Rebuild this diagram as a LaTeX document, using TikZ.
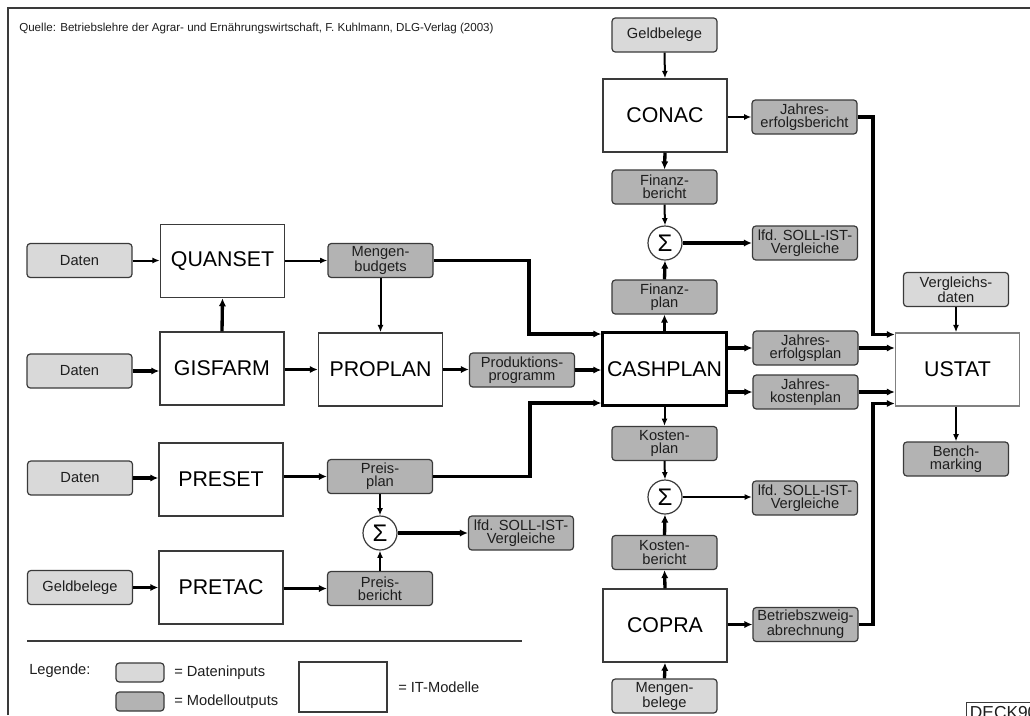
\documentclass[tikz,border=0pt]{standalone}
\usepackage{fontspec}
\setmainfont{Liberation Sans}
\usetikzlibrary{arrows.meta,calc}
\definecolor{inputgray}{HTML}{D9D9D9}
\definecolor{outputgray}{HTML}{B3B3B3}
\definecolor{edgegray}{HTML}{3A3A3A}
\definecolor{textgray}{HTML}{1E1E1E}
\begin{document}
\begin{tikzpicture}[x=0.75pt,y=-0.75pt,
  box/.style={draw=edgegray,line width=0.9pt,rounded corners=2.5pt,
    minimum width=78.75pt,minimum height=25.5pt,inner sep=0pt,align=center,
    font=\fontsize{11}{10}\selectfont,text=textgray},
  inbox/.style={box,fill=inputgray},
  outbox/.style={box,fill=outputgray},
  model/.style={draw=edgegray,line width=1.1pt,fill=white,minimum width=93pt,
    minimum height=54.75pt,inner sep=0pt,font=\fontsize{16}{18}\selectfont,text=black},
  sumnode/.style={circle,draw=edgegray,line width=0.9pt,fill=white,minimum size=25.5pt,
    inner sep=0pt,font=\fontsize{18}{18}\selectfont},
  flow/.style={line width=1.5pt,-{Latex[length=5.5pt,width=4.5pt]}},
  mainflow/.style={line width=2.5pt,-{Latex[length=6pt,width=5.5pt]}},
  wideflow/.style={line width=3pt,-{Latex[length=6pt,width=5.5pt]}},
  legendtext/.style={anchor=west,inner sep=0pt,font=\fontsize{11}{12}\selectfont,text=textgray},
]
\clip (0,0) rectangle (1030,715);
\fill[white] (0,0) rectangle (1030,715);

% frame and source line
\draw[edgegray,line width=1.1pt] (8,715) -- (8,8) -- (1030,8);
\node[anchor=west,inner sep=0pt,font=\fontsize{8.7}{10}\selectfont,text=textgray] (source) at (19,28)
  {Quelle: Betriebslehre der Agrar- und Ernährungswirtschaft, F. Kuhlmann, DLG-Verlag (2003)};

% left column: data inputs
\node[inbox] (d1) at (79.5,260.5) {Daten};
\node[inbox] (d2) at (79.5,371) {Daten};
\node[inbox] (d3) at (80,478) {Daten};
\node[inbox] (gb1) at (80,587.5) {Geldbelege};

% planning models
\node[model] (qs) at (222.5,261) {QUANSET};
\node[model] (gf) at (222,368.5) {GISFARM};
\node[model] (ps) at (221,479.5) {PRESET};
\node[model] (pt) at (221,587.5) {PRETAC};
\node[model] (pp) at (380.5,369.5) {PROPLAN};

\node[outbox] (mb) at (380.5,260.5) {Mengen-\\budgets};
\node[outbox] (prod) at (522,370) {Produktions-\\programm};
\node[outbox] (pplan) at (380,476.5) {Preis-\\plan};
\node[outbox] (pber) at (380,588.5) {Preis-\\bericht};
\node[sumnode] (sigL) at (380,533) {Σ};
\node[outbox] (sollL) at (521,533) {lfd. SOLL-IST-\\Vergleiche};

% central column
\node[inbox] (gbt) at (664.5,35) {Geldbelege};
\node[model] (conac) at (665,115.5) {CONAC};
\node[outbox] (jeb) at (804.5,117) {Jahres-\\erfolgsbericht};
\node[outbox] (fber) at (664.5,187) {Finanz-\\bericht};
\node[sumnode] (sigT) at (665,243) {Σ};
\node[outbox] (sollT) at (805,243) {lfd. SOLL-IST-\\Vergleiche};
\node[outbox] (fplan) at (664.5,297) {Finanz-\\plan};
\node[model,line width=1.8pt,draw=black] (cash) at (664.5,369) {CASHPLAN};
\node[outbox] (jep) at (805.5,348) {Jahres-\\erfolgsplan};
\node[outbox] (jkp) at (805.5,392) {Jahres-\\kostenplan};
\node[outbox] (kplan) at (664.5,443.5) {Kosten-\\plan};
\node[sumnode] (sigB) at (665,497) {Σ};
\node[outbox] (sollB) at (805,498) {lfd. SOLL-IST-\\Vergleiche};
\node[outbox] (kber) at (664.5,552.5) {Kosten-\\bericht};
\node[model] (copra) at (665,625.5) {COPRA};
\node[outbox] (bza) at (805.5,624.5) {Betriebszweig-\\abrechnung};
\node[inbox] (mbel) at (664.5,696) {Mengen-\\belege};

% comparison
\node[inbox] (vgl) at (956,289.5) {Vergleichs-\\daten};
\node[model,draw=gray] (ustat) at (957.5,369.5) {USTAT};
\node[outbox] (bench) at (956,459) {Bench-\\marking};

% connectors, left part
\draw[flow] (d1.east) -- (d1.east -| qs.west);
\draw[mainflow] (d2.east) -- (d2.east -| gf.west);
\draw[mainflow] (gf.north) -- (qs.south);
\draw[flow] (qs.east |- mb.west) -- (mb.west);
\draw[mainflow] (gf.east |- pp.west) -- (pp.west);
\draw[flow] (mb.south) -- (mb.south |- pp.north);
\draw[mainflow] (pp.east) -- (pp.east -| prod.west);
\draw[mainflow] (prod.east) -- (prod.east -| cash.west);
\coordinate (bendMB) at (529,334);
\draw[mainflow] (mb.east) -| (bendMB) -- (bendMB -| cash.west);
\coordinate (bendPP) at (530,403);
\draw[mainflow] (pplan.east) -| (bendPP) -- (bendPP -| cash.west);
\draw[mainflow] (d3.east) -- (d3.east -| ps.west);
\draw[mainflow] (ps.east |- pplan.west) -- (pplan.west);
\draw[flow] (pplan.south) -- (sigL.north);
\draw[flow] (pber.north) -- (sigL.south);
\draw[mainflow] (sigL.east) -- (sigL.east -| sollL.west);
\draw[mainflow] (gb1.east) -- (gb1.east -| pt.west);
\draw[mainflow] (pt.east |- pber.west) -- (pber.west);

% connectors, central part
\draw[flow] (gbt.south) -- (conac.north);
\draw[flow] (conac.east |- jeb.west) -- (jeb.west);
\draw[mainflow] (conac.south) -- (fber.north);
\draw[flow] (fber.south) -- (sigT.north);
\draw[mainflow] (fplan.north) -- (sigT.south);
\draw[mainflow] (cash.north) -- (fplan.south);
\draw[wideflow] (sigT.east) -- (sigT.east -| sollT.west);
\draw[mainflow] (cash.east |- jep.west) -- (jep.west);
\draw[mainflow] (cash.east |- jkp.west) -- (jkp.west);
\draw[flow] (cash.south) -- (kplan.north);
\draw[flow] (kplan.south) -- (sigB.north);
\draw[mainflow] (kber.north) -- (sigB.south);
\draw[flow] (sigB.east) -- (sigB.east -| sollB.west);
\draw[mainflow] (copra.north) -- (kber.south);
\draw[mainflow] (copra.east |- bza.west) -- (bza.west);
\draw[mainflow] (mbel.north) -- (copra.south);

% connectors into USTAT
\coordinate (bendJ) at (873,334.5);
\draw[mainflow] (jeb.east) -| (bendJ) -- (bendJ -| ustat.west);
\draw[mainflow] (jep.east) -- (jep.east -| ustat.west);
\draw[mainflow] (jkp.east) -- (jkp.east -| ustat.west);
\coordinate (bendB) at (873,403.5);
\draw[mainflow] (bza.east) -| (bendB) -- (bendB -| ustat.west);
\draw[flow] (vgl.south) -- (vgl.south |- ustat.north);
\draw[flow] (ustat.south -| bench.north) -- (bench.north);

% legend
\draw[edgegray,line width=1.1pt] (27,641) -- (522,641);
\node[legendtext] (leg) at (29,671) {Legende:};
\node[inbox,minimum width=36pt,minimum height=14.25pt] (legin) at (140,672.5) {};
\node[legendtext] (legintext) at (174,673) {= Dateninputs};
\node[outbox,minimum width=36pt,minimum height=14.25pt] (legout) at (140,701.5) {};
\node[legendtext] (legouttext) at (174,702) {= Modelloutputs};
\node[model,minimum width=66pt,minimum height=37.5pt] (legmodel) at (343,687) {};
\node[legendtext] (legmodeltext) at (398,687) {= IT-Modelle};

% slide tag, running off the lower right corner
\node[draw=edgegray,line width=0.9pt,anchor=north west,inner sep=2.5pt,
  font=\fontsize{13}{14}\selectfont,text=textgray] (deck) at (966,702) {DECK90};
\end{tikzpicture}
\end{document}
